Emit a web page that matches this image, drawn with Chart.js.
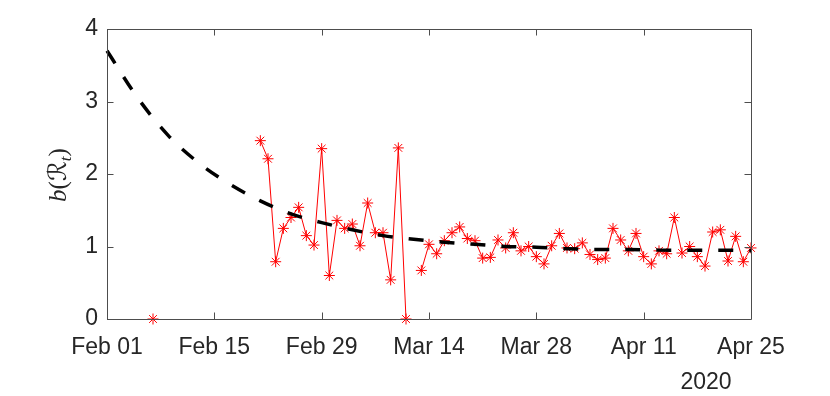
<!DOCTYPE html>
<html>
<head>
<meta charset="utf-8">
<script src="https://cdn.jsdelivr.net/npm/chart.js@4.4.1/dist/chart.umd.min.js"></script>
<style>
  html, body { margin: 0; padding: 0; background: #fff; }
  #wrap { width: 830px; height: 396px; }
</style>
</head>
<body>
<div id="wrap"><canvas id="canvas"></canvas></div>
<script>
// days counted from Feb 01 2020 (day 0) to Apr 25 (day 84)
let tickLabels = [ 'Feb 01', 'Feb 15', 'Feb 29', 'Mar 14', 'Mar 28', 'Apr 11', 'Apr 25' ];
let yearLabel = '2020';

// observed b(R_t), one value per day, null = no estimate
let observed = [
  null, null, null, null, null, null, 0,    null, null, null,   // d0-9
  null, null, null, null, null, null, null, null, null, null,   // d10-19
  2.46, 2.21, 0.79, 1.25, 1.40, 1.54, 1.15, 1.02, 2.35, 0.60,   // d20-29
  1.36, 1.25, 1.31, 1.01, 1.60, 1.19, 1.19, 0.54, 2.36, 0,      // d30-39
  null, 0.67, 1.03, 0.90, 1.08, 1.19, 1.27, 1.11, 1.08, 0.84,   // d40-49
  0.85, 1.09, 0.98, 1.19, 0.94, 1.00, 0.86, 0.76, 1.01, 1.18,   // d50-59
  0.98, 0.97, 1.05, 0.89, 0.82, 0.84, 1.25, 1.09, 0.94, 1.18,   // d60-69
  0.86, 0.76, 0.94, 0.90, 1.40, 0.91, 1.00, 0.86, 0.73, 1.20,   // d70-79
  1.23, 0.80, 1.14, 0.79, 0.98                                  // d80-84
];

// dashed fitted curve, read every 4 days
let fitDays   = [ 0,    4,    8,    12,   16,   20,   24,   28,   32,   36,   40,
                  44,   48,   52,   56,   60,   64,   68,   72,   76,   80,   84 ];
let fitValues = [ 3.70, 3.05, 2.53, 2.15, 1.86, 1.63, 1.45, 1.33, 1.23, 1.15, 1.10,
                  1.06, 1.03, 1.00, 0.99, 0.97, 0.96, 0.96, 0.95, 0.95, 0.95, 0.94 ];

let axisColor = '#4d4d4d';
let textColor = '#262626';

// box + inward ticks like MATLAB
let boxPlugin = {
  id: 'box',
  afterDatasetsDraw(chart) {
    let ctx = chart.ctx;
    let a = chart.chartArea;
    let xs = chart.scales.x, ys = chart.scales.y;
    let tl = 6.5;
    ctx.save();
    ctx.strokeStyle = axisColor;
    ctx.lineWidth = 1;
    ctx.beginPath();
    ctx.rect(Math.round(a.left) + 0.5, Math.round(a.top) + 0.5,
             Math.round(a.right - a.left), Math.round(a.bottom - a.top));
    xs.ticks.forEach(t => {
      let px = Math.round(xs.getPixelForValue(t.value)) + 0.5;
      ctx.moveTo(px, a.bottom); ctx.lineTo(px, a.bottom - tl);
      ctx.moveTo(px, a.top); ctx.lineTo(px, a.top + tl);
    });
    ys.ticks.forEach(t => {
      let py = Math.round(ys.getPixelForValue(t.value)) + 0.5;
      ctx.moveTo(a.left, py); ctx.lineTo(a.left + tl, py);
      ctx.moveTo(a.right, py); ctx.lineTo(a.right - tl, py);
    });
    ctx.stroke();

    // year under the last ticks
    ctx.fillStyle = textColor;
    ctx.font = '23px "Liberation Sans", Arial, sans-serif';
    ctx.textAlign = 'center';
    ctx.textBaseline = 'alphabetic';
    ctx.fillText(yearLabel, a.right - 45, 389);

    // y label b(R_t), rotated
    let parts = [
      { t: 'b', f: 'italic 25px "Liberation Serif", serif', dy: 0 },
      { t: '(', f: '25px "Liberation Serif", serif', dy: 0 },
      { t: '\u211B', f: 'italic 25px "DejaVu Serif", "DejaVu Sans", serif', dy: 0 },
      { t: 't', f: 'italic 17px "Liberation Serif", serif', dy: 5 },
      { t: ')', f: '25px "Liberation Serif", serif', dy: 0 }
    ];
    let total = 0;
    parts.forEach(p => { ctx.font = p.f; p.w = ctx.measureText(p.t).width; total += p.w; });
    ctx.translate(66, 175);
    ctx.rotate(-Math.PI / 2);
    ctx.textAlign = 'left';
    let x = -total / 2;
    parts.forEach(p => {
      ctx.font = p.f;
      ctx.fillText(p.t, x, p.dy);
      x += p.w;
    });
    ctx.restore();
  }
};

let options = {
  type: 'line',
  data: {
    datasets: [{
      data: fitDays.map((d, i) => ({ x: d, y: fitValues[i] })),
      borderColor: '#000',
      borderWidth: 3.5,
      borderDash: [15, 16],
      pointRadius: 0,
      cubicInterpolationMode: 'monotone',
      fill: false,
      clip: false
    }, {
      data: observed.map((v, i) => ({ x: i, y: v })),
      borderColor: '#ff0000',
      borderWidth: 1,
      pointStyle: 'star',
      pointRadius: 5.5,
      pointBorderColor: '#ff0000',
      pointBorderWidth: 1,
      spanGaps: false,
      fill: false,
      clip: false,
      tension: 0
    }]
  },
  options: {
    responsive: true,
    maintainAspectRatio: false,
    animation: false,
    layout: { padding: { top: 29, right: 79, bottom: 0, left: 0 } },
    plugins: {
      legend: { display: false },
      tooltip: { enabled: false }
    },
    scales: {
      x: {
        type: 'linear',
        min: 0,
        max: 84,
        afterFit(scale) { scale.height = 77; },
        afterBuildTicks(scale) {
          scale.ticks = tickLabels.map((l, i) => ({ value: i * 14 }));
        },
        grid: { display: false, drawTicks: false },
        border: { display: false },
        ticks: {
          autoSkip: false,
          maxRotation: 0,
          padding: 15,
          color: textColor,
          font: { family: '"Liberation Sans", Arial, sans-serif', size: 23 },
          callback: (v) => tickLabels[Math.round(v / 14)]
        }
      },
      y: {
        min: 0,
        max: 4,
        afterFit(scale) { scale.width = 107; },
        grid: { display: false, drawTicks: false },
        border: { display: false },
        ticks: {
          stepSize: 1,
          padding: 9,
          color: textColor,
          font: { family: '"Liberation Sans", Arial, sans-serif', size: 23 }
        }
      }
    }
  },
  plugins: [boxPlugin]
};

let chart = new Chart(document.getElementById('canvas'), options);
</script>
</body>
</html>
